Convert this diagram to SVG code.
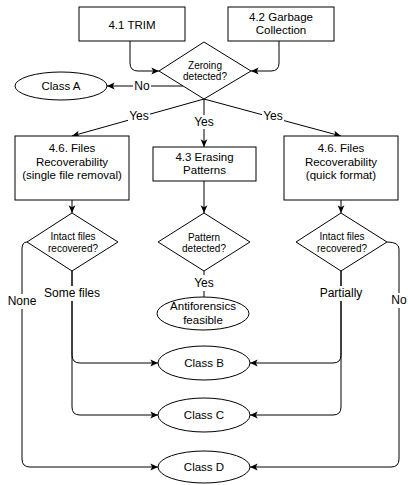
<svg xmlns="http://www.w3.org/2000/svg" width="408" height="485" viewBox="0 0 408 485">
<defs>
<style>
.n{fill:#fff;stroke:#000;stroke-width:1}
.t{font-family:"Liberation Sans",Arial,sans-serif;font-size:11.5px;fill:#000;text-anchor:middle;dominant-baseline:central}
.d{font-size:10px}
.l{font-size:12px}
.c{fill:none;stroke:#000;stroke-width:1}
.bg{fill:#fff;stroke:none}
</style>
<marker id="arr" viewBox="0 0 10 10" refX="9.5" refY="5" markerWidth="9" markerHeight="9" orient="auto" markerUnits="userSpaceOnUse">
<path d="M1,1.2 L9.5,5 L1,8.8 L3,5 Z" fill="#000"/>
</marker>
</defs>
<rect width="408" height="485" fill="#fff"/>
<g id="connectors">
<path class="c" d="M130,41 V63 Q130,71 138,71 H159" marker-end="url(#arr)"/>
<path class="c" d="M279,41 V63 Q279,71 271,71 H251" marker-end="url(#arr)"/>
<path class="c" d="M183,86 H107" marker-end="url(#arr)"/>
<path class="c" d="M204,99 L72,136" marker-end="url(#arr)"/>
<path class="c" d="M204,99 V147" marker-end="url(#arr)"/>
<path class="c" d="M204,99 L341,136" marker-end="url(#arr)"/>
<path class="c" d="M72,200 V213" marker-end="url(#arr)"/>
<path class="c" d="M204,181 V213" marker-end="url(#arr)"/>
<path class="c" d="M341,200 V213" marker-end="url(#arr)"/>
<path class="c" d="M204,271 V297"/>
<path class="c" d="M72,271 V355 Q72,363 80,363 H158" marker-end="url(#arr)"/>
<path class="c" d="M72,271 V407 Q72,415 80,415 H158" marker-end="url(#arr)"/>
<path class="c" d="M27,242 Q22,242 22,249 V459 Q22,467 30,467 H158" marker-end="url(#arr)"/>
<path class="c" d="M341,271 V355 Q341,363 333,363 H250" marker-end="url(#arr)"/>
<path class="c" d="M341,271 V407 Q341,415 333,415 H250" marker-end="url(#arr)"/>
<path class="c" d="M387,242 Q399,242 399,249 V459 Q399,467 391,467 H250" marker-end="url(#arr)"/>
<rect class="bg" x="133" y="79" width="18" height="14"/>
<text class="t l" x="142" y="86">No</text>
<rect class="bg" x="128" y="110" width="22" height="13"/>
<text class="t l" x="139" y="116">Yes</text>
<rect class="bg" x="193" y="115" width="22" height="14"/>
<text class="t l" x="204" y="122">Yes</text>
<rect class="bg" x="262" y="110" width="22" height="13"/>
<text class="t l" x="273" y="116">Yes</text>
<rect class="bg" x="193" y="275" width="22" height="16"/>
<text class="t l" x="204" y="283">Yes</text>
<rect class="bg" x="8" y="294" width="28" height="15"/>
<text class="t l" x="22" y="301">None</text>
<rect class="bg" x="43" y="286" width="60" height="15"/>
<text class="t l" x="72" y="293">Some files</text>
<rect class="bg" x="318" y="286" width="46" height="15"/>
<text class="t l" x="341" y="293">Partially</text>
<rect class="bg" x="390" y="293" width="18" height="15"/>
<text class="t l" x="399" y="300">No</text>
</g>
<g id="trim">
<rect class="n" x="79" y="7" width="106" height="34"/>
<text class="t" x="132" y="24.5">4.1 TRIM</text>
</g>
<g id="gc">
<rect class="n" x="228" y="7" width="106" height="34"/>
<text class="t" x="281" y="17">4.2 Garbage</text>
<text class="t" x="281" y="29.5">Collection</text>
</g>
<g id="zeroing">
<polygon class="n" points="204,42 251,71 204,99 159,71"/>
<text class="t d" x="205" y="65">Zeroing</text>
<text class="t d" x="205" y="76">detected?</text>
</g>
<g id="classA">
<ellipse class="n" cx="61" cy="86" rx="46" ry="14"/>
<text class="t" x="61" y="86">Class A</text>
</g>
<g id="files1">
<rect class="n" x="15" y="136" width="114" height="64"/>
<text class="t" x="72" y="148">4.6. Files</text>
<text class="t" x="72" y="161.5">Recoverability</text>
<text class="t" x="72" y="175">(single file removal)</text>
</g>
<g id="erasing">
<rect class="n" x="153" y="147" width="103" height="34"/>
<text class="t" x="204.5" y="157">4.3 Erasing</text>
<text class="t" x="204.5" y="170">Patterns</text>
</g>
<g id="files2">
<rect class="n" x="284" y="136" width="114" height="64"/>
<text class="t" x="341" y="148">4.6. Files</text>
<text class="t" x="341" y="161.5">Recoverability</text>
<text class="t" x="341" y="175">(quick format)</text>
</g>
<g id="intact1">
<polygon class="n" points="72,213 118,242 72,271 27,242"/>
<text class="t d" x="73" y="236">Intact files</text>
<text class="t d" x="73" y="248">recovered?</text>
</g>
<g id="pattern">
<polygon class="n" points="204,213 250,242 204,271 158,242"/>
<text class="t d" x="204" y="237">Pattern</text>
<text class="t d" x="204" y="248.5">detected?</text>
</g>
<g id="intact2">
<polygon class="n" points="341,213 387,242 341,271 296,242"/>
<text class="t d" x="342" y="236">Intact files</text>
<text class="t d" x="342" y="248">recovered?</text>
</g>
<g id="antiforensics">
<ellipse class="n" cx="203" cy="313.5" rx="46" ry="16.5"/>
<text class="t" x="203" y="306">Antiforensics</text>
<text class="t" x="203" y="319.5">feasible</text>
</g>
<g id="classB">
<ellipse class="n" cx="204" cy="363" rx="46" ry="17"/>
<text class="t" x="204" y="363">Class B</text>
</g>
<g id="classC">
<ellipse class="n" cx="204" cy="415" rx="46" ry="17"/>
<text class="t" x="204" y="415">Class C</text>
</g>
<g id="classD">
<ellipse class="n" cx="204" cy="467" rx="46" ry="16"/>
<text class="t" x="204" y="467">Class D</text>
</g>
</svg>
